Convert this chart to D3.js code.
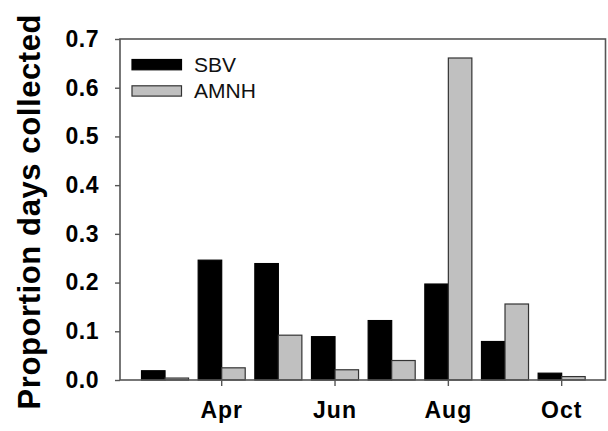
<!DOCTYPE html>
<html>
<head>
<meta charset="utf-8">
<script src="https://cdn.jsdelivr.net/npm/d3@7"></script>
<style>
  html, body { margin: 0; padding: 0; background: #fff; }
  svg { display: block; }
</style>
</head>
<body>
<svg id="chart" width="608" height="431"></svg>
<script>
const months = ["Mar", "Apr", "May", "Jun", "Jul", "Aug", "Sep", "Oct"];
const labeledMonths = ["Apr", "Jun", "Aug", "Oct"];
const seriesNames = ["SBV", "AMNH"];
const sbv = [0.019, 0.246, 0.239, 0.089, 0.122, 0.197, 0.079, 0.014];
const amnh = [0.004, 0.025, 0.092, 0.021, 0.040, 0.661, 0.156, 0.007];
const yTicks = [0.0, 0.1, 0.2, 0.3, 0.4, 0.5, 0.6, 0.7];
const colors = ["#000000", "#c0c0c0"];

const svg = d3.select("#chart");
const L = 120, R = 605.5, T = 39, B = 380;

const x = d3.scaleBand().domain(months).range([136.7, 590]).paddingInner(0.17).paddingOuter(0.085);
const xs = d3.scaleBand().domain(seriesNames).range([0, x.bandwidth()]);
const y = d3.scaleLinear().domain([0, 0.7]).range([B, T]);

const data = months.map((m, i) => ({ m, vals: [sbv[i], amnh[i]] }));

// bars
const g = svg.append("g");
data.forEach(d => {
  d.vals.forEach((v, k) => {
    g.append("rect")
      .attr("x", x(d.m) + xs(seriesNames[k]))
      .attr("y", y(v))
      .attr("width", xs.bandwidth())
      .attr("height", B - y(v))
      .attr("fill", colors[k])
      .attr("stroke", k === 0 ? "#000" : "#333")
      .attr("stroke-width", 1.2);
  });
});

// frame
const axisColor = "#555";
svg.append("rect").attr("x", L).attr("y", T).attr("width", R - L).attr("height", B - T)
  .attr("fill", "none").attr("stroke", axisColor).attr("stroke-width", 1.6);

// y axis
const yAxis = svg.append("g").attr("transform", `translate(${L},0)`)
  .call(d3.axisLeft(y).tickValues(yTicks).tickFormat(d3.format(".1f")).tickSize(5).tickPadding(16));
yAxis.select(".domain").remove();
yAxis.selectAll(".tick line").attr("stroke", axisColor).attr("stroke-width", 1.4);
yAxis.selectAll(".tick text")
  .attr("fill", "#000")
  .style("font-family", "'Liberation Sans', Arial, sans-serif")
  .style("font-weight", "bold")
  .style("font-size", "23px")
  .style("letter-spacing", "0.5px");

// x axis
const xAxis = svg.append("g").attr("transform", `translate(0,${B})`)
  .call(d3.axisBottom(x).tickValues(labeledMonths).tickSize(6).tickPadding(16));
xAxis.select(".domain").remove();
xAxis.selectAll(".tick line").attr("stroke", axisColor).attr("stroke-width", 1.4);
xAxis.selectAll(".tick text")
  .attr("fill", "#000")
  .style("font-family", "'Liberation Sans', Arial, sans-serif")
  .style("font-weight", "bold")
  .style("font-size", "23px")
  .style("letter-spacing", "1px");

// y title
svg.append("text")
  .attr("transform", `translate(40,${211.7}) rotate(-90)`)
  .attr("text-anchor", "middle")
  .style("font-family", "'Liberation Sans', Arial, sans-serif")
  .style("font-weight", "bold")
  .style("font-size", "31px")
  .style("letter-spacing", "0.6px")
  .text("Proportion days collected");

// legend
const leg = svg.append("g");
seriesNames.forEach((s, k) => {
  const yy = 59.5 + k * 26.3;
  leg.append("rect").attr("x", 132).attr("y", yy).attr("width", 49.5).attr("height", 10.3)
    .attr("fill", colors[k]).attr("stroke", k === 0 ? "#000" : "#333").attr("stroke-width", 1.2);
  leg.append("text").attr("x", 194).attr("y", yy + 12.3)
    .style("font-family", "'Liberation Sans', Arial, sans-serif")
    .style("font-size", "21px")
    .attr("fill", "#111")
    .text(s);
});
</script>
</body>
</html>
